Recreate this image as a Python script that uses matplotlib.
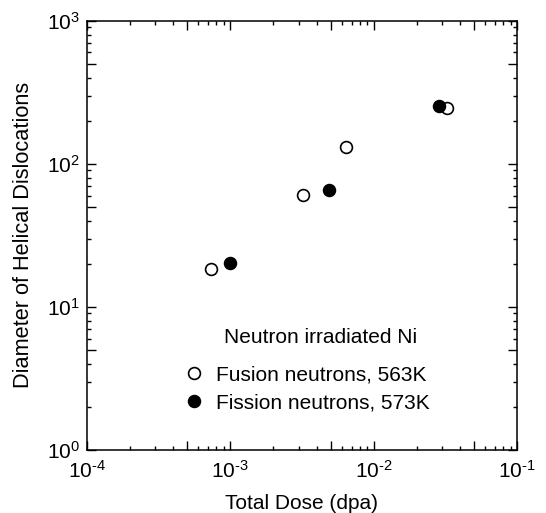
import numpy as np
import matplotlib
matplotlib.use('Agg')
import matplotlib.pyplot as plt
from matplotlib.ticker import LogLocator, FuncFormatter, NullFormatter

plt.rcParams['font.family'] = ['Liberation Sans', 'DejaVu Sans']
plt.rcParams['mathtext.fontset'] = 'custom'
plt.rcParams['mathtext.rm'] = 'Liberation Sans'

# fusion neutrons, 563K (open circles)
fusion_dose = [7.4e-4, 3.2e-3, 6.4e-3, 3.25e-2]
fusion_diam = [18.3, 60.5, 132, 244]
# fission neutrons, 573K (filled circles)
fission_dose = [1.0e-3, 4.9e-3, 2.85e-2]
fission_diam = [20.4, 65.5, 254]

fig = plt.figure(figsize=(5.46, 5.13), dpi=100)
ax = fig.add_axes([0.1588, 0.1228, 0.7886, 0.8368])

ax.plot(fusion_dose, fusion_diam, 'o', ms=8.5, mfc='white', mec='black', mew=1.2,
        ls='none', label='Fusion neutrons, 563K')
ax.plot(fission_dose, fission_diam, 'o', ms=8.5, mfc='black', mec='black', mew=1.2,
        ls='none', label='Fission neutrons, 573K')

ax.set_xscale('log')
ax.set_yscale('log')
ax.set_xlim(1e-4, 1e-1)
ax.set_ylim(1, 1e3)

def fmt(v, pos):
    e = np.log10(v)
    if abs(e - round(e)) < 1e-6:
        e = int(round(e))
        if e < 0:
            return r'$\mathregular{10^{\text{-}%d}}$' % (-e)
        return r'$\mathregular{10^{%d}}$' % e
    return ''

for a in (ax.xaxis, ax.yaxis):
    a.set_major_locator(LogLocator(base=10, subs=(1.0, 5.0)))
    a.set_minor_locator(LogLocator(base=10, subs=(2, 3, 4, 6, 7, 8, 9)))
    a.set_major_formatter(FuncFormatter(fmt))
    a.set_minor_formatter(NullFormatter())

ax.tick_params(which='both', direction='in', top=True, right=True, width=1.0,
               labelsize=15)
ax.tick_params(which='major', length=6.5)
ax.tick_params(axis='x', which='major', pad=7)
ax.tick_params(axis='y', which='major', pad=5)
ax.tick_params(which='minor', length=2.8)
for s in ax.spines.values():
    s.set_linewidth(1.1)

ax.set_xlabel('Total Dose (dpa)', fontsize=15, labelpad=9)
ax.set_ylabel('Diameter of Helical Dislocations', fontsize=15.7, labelpad=9)

ax.text(0.319, 0.263, 'Neutron irradiated Ni', transform=ax.transAxes,
        fontsize=15, ha='left', va='center')
ax.legend(frameon=False, fontsize=15, loc='upper left',
          bbox_to_anchor=(0.219, 0.198), handletextpad=0.5,
          labelspacing=0.45, handlelength=1.2, borderaxespad=0, borderpad=0)

fig.savefig('out.png', dpi=100)
